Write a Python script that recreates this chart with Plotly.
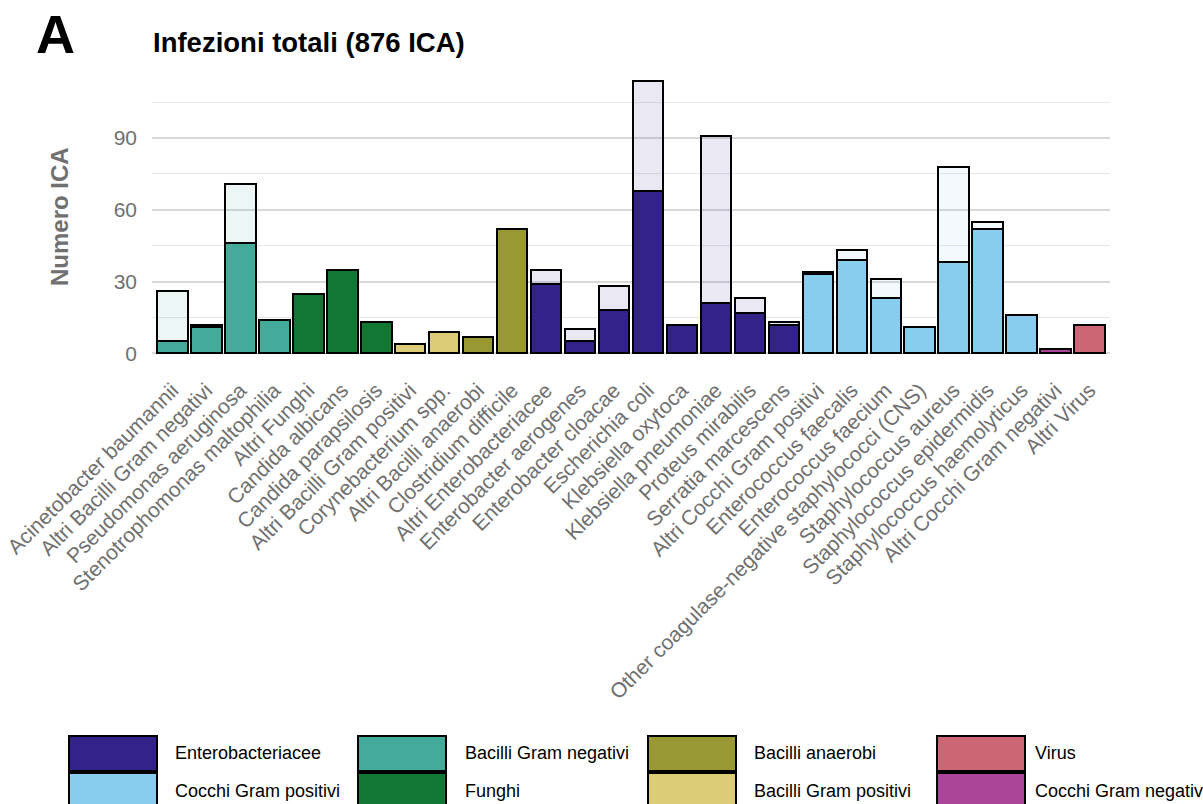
import plotly.graph_objects as go

# Microrganismi (ordine dell'asse x)
organismi = [
    "Acinetobacter baumannii", "Altri Bacilli Gram negativi", "Pseudomonas aeruginosa",
    "Stenotrophomonas maltophilia", "Altri Funghi", "Candida albicans",
    "Candida parapsilosis", "Altri Bacilli Gram positivi", "Corynebacterium spp.",
    "Altri Bacilli anaerobi", "Clostridium difficile", "Altri Enterobacteriacee",
    "Enterobacter aerogenes", "Enterobacter cloacae", "Escherichia coli",
    "Klebsiella oxytoca", "Klebsiella pneumoniae", "Proteus mirabilis",
    "Serratia marcescens", "Altri Cocchi Gram positivi", "Enterococcus faecalis",
    "Enterococcus faecium", "Other coagulase-negative staphylococci (CNS)",
    "Staphylococcus aureus", "Staphylococcus epidermidis", "Staphylococcus haemolyticus",
    "Altri Cocchi Gram negativi", "Altri Virus",
]

# Gruppo di appartenenza di ciascun microrganismo
gruppi = [
    "Bacilli Gram negativi", "Bacilli Gram negativi", "Bacilli Gram negativi",
    "Bacilli Gram negativi", "Funghi", "Funghi", "Funghi",
    "Bacilli Gram positivi", "Bacilli Gram positivi",
    "Bacilli anaerobi", "Bacilli anaerobi",
    "Enterobacteriacee", "Enterobacteriacee", "Enterobacteriacee", "Enterobacteriacee",
    "Enterobacteriacee", "Enterobacteriacee", "Enterobacteriacee", "Enterobacteriacee",
    "Cocchi Gram positivi", "Cocchi Gram positivi", "Cocchi Gram positivi",
    "Cocchi Gram positivi", "Cocchi Gram positivi", "Cocchi Gram positivi",
    "Cocchi Gram positivi", "Cocchi Gram negativi", "Virus",
]

# Numero di ICA: quota piena (in basso) e totale per microrganismo
ica_quota = [5, 11, 46, 14, 25, 35, 13, 4, 9, 7, 52, 29, 5, 18, 68, 12, 21, 17, 12,
             33, 39, 23, 11, 38, 52, 16, 2, 12]
ica_totale = [26, 12, 71, 14, 25, 35, 13, 4, 9, 7, 52, 35, 10, 28, 114, 12, 91, 23, 13,
              34, 43, 31, 11, 78, 55, 16, 2, 12]

# Legenda (due righe da quattro)
legenda_riga1 = ["Enterobacteriacee", "Bacilli Gram negativi", "Bacilli anaerobi", "Virus"]
legenda_riga2 = ["Cocchi Gram positivi", "Funghi", "Bacilli Gram positivi", "Cocchi Gram negativi"]

colori = {
    "Enterobacteriacee": "#332288",
    "Bacilli Gram negativi": "#44AA99",
    "Bacilli anaerobi": "#999933",
    "Virus": "#CC6677",
    "Cocchi Gram positivi": "#88CCEE",
    "Funghi": "#117733",
    "Bacilli Gram positivi": "#DDCC77",
    "Cocchi Gram negativi": "#AA4499",
}

y_tick_vals = [0, 30, 60, 90]

FONT = "Liberation Sans, Arial, Helvetica, sans-serif"
GREY = "#707070"


def tenue(hex_col, alpha=0.1):
    h = hex_col.lstrip("#")
    r, g, b = int(h[0:2], 16), int(h[2:4], 16), int(h[4:6], 16)
    return f"rgba({r},{g},{b},{alpha})"


resto = [t - q for t, q in zip(ica_totale, ica_quota)]
resto_plot = [r if r > 0 else None for r in resto]

fig = go.Figure()
fig.add_trace(go.Bar(
    x=organismi, y=ica_quota,
    marker=dict(color=[colori[g] for g in gruppi], line=dict(color="black", width=2)),
    showlegend=False, hoverinfo="x+y",
))
fig.add_trace(go.Bar(
    x=organismi, y=resto_plot,
    marker=dict(color=[tenue(colori[g]) for g in gruppi], line=dict(color="black", width=2)),
    showlegend=False, hoverinfo="x+y",
))

# Geometria del pannello in pixel
W, H = 1203, 804
L, R, T, B = 152, 1110, 67, 367


def px_x(p):
    return (p - L) / (R - L)


def px_y(p):
    return (B - p) / (B - T)


ymax = max(ica_totale)
pad = 0.05 * ymax

fig.update_layout(
    width=W, height=H,
    margin=dict(l=L, r=W - R, t=T, b=H - B, autoexpand=False),
    paper_bgcolor="white", plot_bgcolor="white",
    barmode="stack", bargap=0.1,
    font=dict(family=FONT, color=GREY),
    xaxis=dict(
        range=[-0.6, len(organismi) - 0.4],
        tickangle=-45, tickfont=dict(size=21, color=GREY),
        showgrid=False, zeroline=False, showline=False, ticks="",
        ticklabelstandoff=6,
    ),
    yaxis=dict(
        range=[-pad, ymax + pad],
        tickvals=y_tick_vals, ticktext=[str(v) for v in y_tick_vals],
        tickfont=dict(size=21, color=GREY),
        showgrid=True, gridcolor="#d9d9d9", gridwidth=1.6,
        minor=dict(tickvals=[15, 45, 75, 105], showgrid=True, gridcolor="#e6e6e6", gridwidth=1),
        zeroline=False, showline=False, ticks="", ticklabelstandoff=14,
    ),
)

annotations = [
    dict(text="<b>A</b>", x=px_x(34), y=px_y(34), xanchor="left", yanchor="middle",
         font=dict(family=FONT, size=54, color="black")),
    dict(text="<b>Infezioni totali (876 ICA)</b>", x=px_x(151), y=px_y(43),
         xanchor="left", yanchor="middle",
         font=dict(family=FONT, size=27.5, color="black")),
    dict(text="<b>Numero ICA</b>", x=px_x(59), y=px_y(217), xanchor="center",
         yanchor="middle", textangle=-90,
         font=dict(family=FONT, size=24, color=GREY)),
]

shapes = []
col_x = [69, 358, 648, 937]
text_x = [173, 463, 752, 1033]
righe = [(legenda_riga1, 736, 771), (legenda_riga2, 773, 809)]
for voci, y0, y1 in righe:
    for i, nome in enumerate(voci):
        shapes.append(dict(
            type="rect", xref="paper", yref="paper",
            x0=px_x(col_x[i]), x1=px_x(col_x[i] + 88), y0=px_y(y1), y1=px_y(y0),
            fillcolor=colori[nome], line=dict(color="black", width=2),
        ))
        annotations.append(dict(
            text=nome, x=px_x(text_x[i]), y=px_y((y0 + y1) / 2),
            xanchor="left", yanchor="middle",
            font=dict(family=FONT, size=18, color="black"),
        ))

for a in annotations:
    a.update(xref="paper", yref="paper", showarrow=False)

fig.update_layout(annotations=annotations, shapes=shapes)

fig.write_html("out.html")
